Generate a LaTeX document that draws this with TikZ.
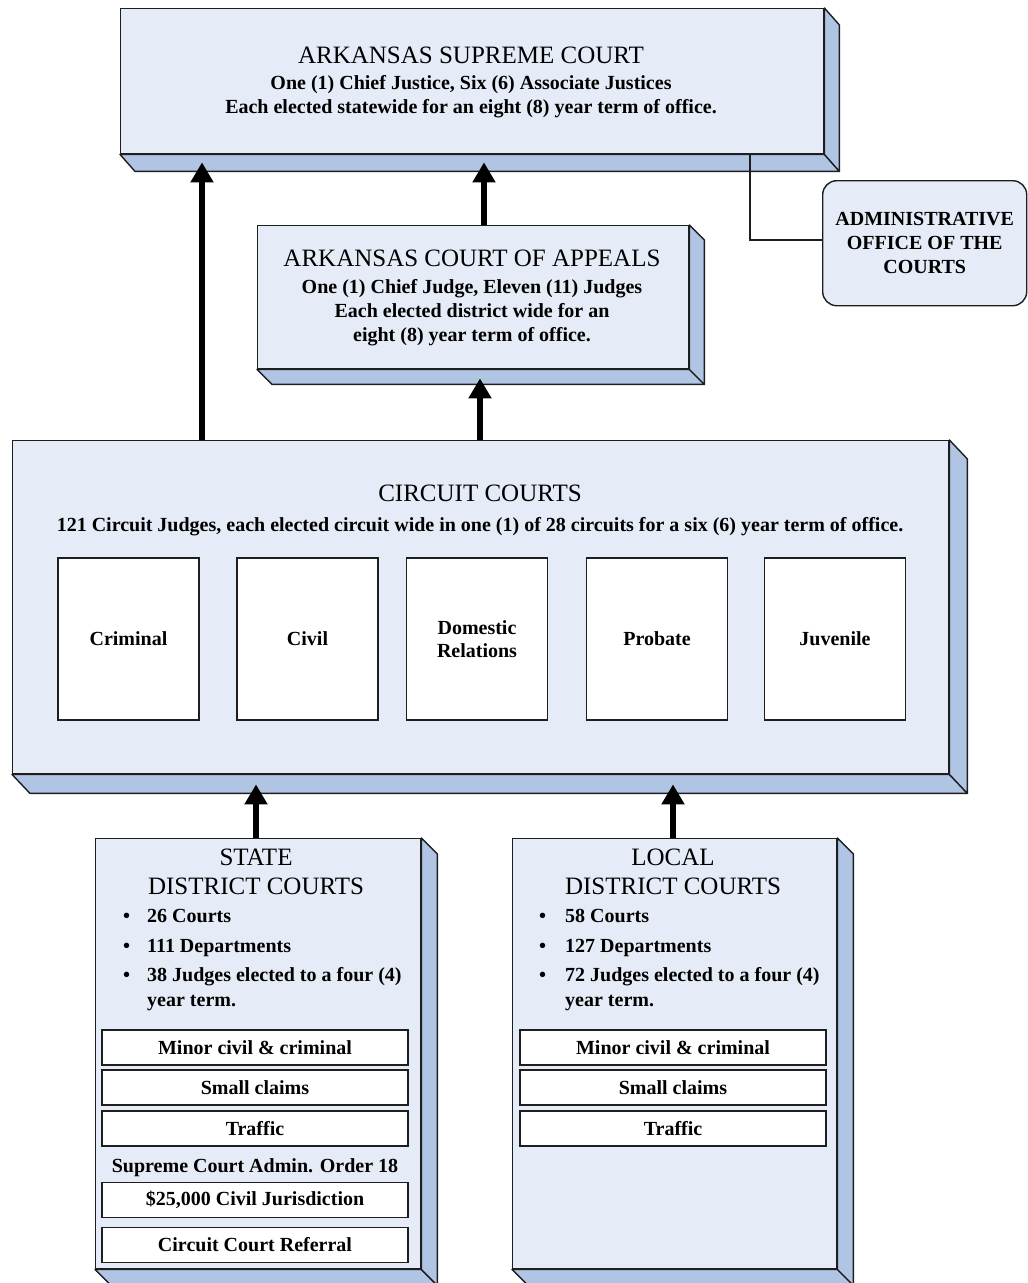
\documentclass[tikz,border=0pt]{standalone}
\usepackage{fontspec}
\setmainfont{Liberation Serif}
\usetikzlibrary{calc,arrows.meta}
\definecolor{frontcol}{RGB}{230,236,247}
\definecolor{sidecol}{RGB}{176,196,228}
\definecolor{edgecol}{RGB}{30,30,30}
\tikzset{
 front/.style={draw=edgecol, line width=1.4pt, fill=frontcol, inner sep=0pt, anchor=north west},
 side/.style={draw=edgecol, line width=1.4pt, fill=sidecol, line join=round},
 titletxt/.style={font=\fontsize{25}{28}\selectfont, inner sep=0pt, anchor=base},
 boldtxt/.style={font=\bfseries\fontsize{20}{22}\selectfont, inner sep=0pt, anchor=base},
 bullettxt/.style={font=\bfseries\fontsize{20}{22}\selectfont, inner sep=0pt, anchor=base west},
 cell/.style={draw=edgecol, line width=1.3pt, fill=white, minimum width=141pt, minimum height=162pt, inner sep=0pt, align=center, font=\bfseries\fontsize{20}{23}\selectfont},
 strip/.style={draw=edgecol, line width=1.3pt, fill=white, minimum width=306pt, minimum height=35pt, inner sep=0pt, font=\bfseries\fontsize{20}{22}\selectfont},
 uparrow/.style={line width=5.5pt, -{Triangle[width=22pt,length=20pt]}},
 link/.style={line width=1.2pt, draw=edgecol},
}
\newcommand\boxdepthfaces[3]{%
 \filldraw[side] (#1.south west) -- (#1.south east) -- ++(#2pt,-#3pt) -- ($(#1.south west)+(#2pt,-#3pt)$) -- cycle;
 \filldraw[side] (#1.north east) -- ++(#2pt,-#3pt) -- ($(#1.south east)+(#2pt,-#3pt)$) -- (#1.south east) -- cycle;
}
\begin{document}
\begin{tikzpicture}[x=1pt,y=-1pt]
\useasboundingbox (0,0) rectangle (1028,1283);
\fill[white] (0,0) rectangle (1028,1283);

% Supreme Court
\node[front, minimum width=703pt, minimum height=145pt] (sup) at (120,8) {};
\boxdepthfaces{sup}{15}{17}
\node[titletxt] (supT) at (471,63) {ARKANSAS SUPREME COURT};
\node[boldtxt] (supA) at (471,89.5) {One (1) Chief Justice, Six (6) Associate Justices};
\node[boldtxt] (supB) at (471,113.5) {Each elected statewide for an eight (8) year term of office.};

% Administrative office
\node[draw=edgecol, line width=1.4pt, fill=frontcol, rounded corners=14pt, minimum width=204pt, minimum height=125pt, anchor=north west, align=center, font=\bfseries\fontsize{20}{24}\selectfont, inner sep=0pt] (aoc) at (822,180) {ADMINISTRATIVE\\OFFICE OF THE\\COURTS};
\coordinate (bend) at (750,240);
\draw[link] (sup.south -| bend) -- (bend) -- (bend -| aoc.west);

% Court of Appeals
\node[front, minimum width=431pt, minimum height=143pt] (coa) at (257,225) {};
\boxdepthfaces{coa}{15}{15}
\node[titletxt] (coaT) at (472,266) {ARKANSAS COURT OF APPEALS};
\node[boldtxt] (coaA) at (472,293.5) {One (1) Chief Judge, Eleven (11) Judges};
\node[boldtxt] (coaB) at (472,317.5) {Each elected district wide for an};
\node[boldtxt] (coaC) at (472,341.5) {eight (8) year term of office.};

% Circuit Courts
\node[front, minimum width=936pt, minimum height=333pt] (cc) at (12,440) {};
\boxdepthfaces{cc}{18}{19}
\node[titletxt] (ccT) at (480,501) {CIRCUIT COURTS};
\node[boldtxt] (ccA) at (480,531.5) {121 Circuit Judges, each elected circuit wide in one (1) of 28 circuits for a six (6) year term of office.};
\node[cell] (crim) at (128.5,639) {Criminal};
\node[cell] (civ) at (307.5,639) {Civil};
\node[cell] (dom) at (477,639) {Domestic\\Relations};
\node[cell] (prob) at (657,639) {Probate};
\node[cell] (juv) at (835,639) {Juvenile};

% State District Courts
\node[front, minimum width=325pt, minimum height=430pt] (sdc) at (95,838) {};
\boxdepthfaces{sdc}{16}{16}
\node[titletxt] (sdcT) at (256,865) {STATE};
\node[titletxt] (sdcU) at (256,894) {DISTRICT COURTS};
\node[bullettxt] (sb1) at (123,922.5) {\textbullet};
\node[bullettxt] (sb2) at (123,952.5) {\textbullet};
\node[bullettxt] (sb3) at (123,981.5) {\textbullet};
\node[bullettxt] (st1) at (147,922.5) {26 Courts};
\node[bullettxt] (st2) at (147,952.5) {111 Departments};
\node[bullettxt] (st3) at (147,981.5) {38 Judges elected to a four (4)};
\node[bullettxt] (st4) at (147,1006.5) {year term.};
\node[strip] (ss1) at (255,1047.5) {Minor civil \& criminal};
\node[strip] (ss2) at (255,1087.5) {Small claims};
\node[strip] (ss3) at (255,1128.5) {Traffic};
\node[boldtxt] (sord) at (255,1172.5) {Supreme Court Admin. Order 18};
\node[strip] (ss4) at (255,1200) {\$25,000 Civil Jurisdiction};
\node[strip] (ss5) at (255,1245) {Circuit Court Referral};

% Local District Courts
\node[front, minimum width=324pt, minimum height=430pt] (ldc) at (512,838) {};
\boxdepthfaces{ldc}{16}{16}
\node[titletxt] (ldcT) at (673,865) {LOCAL};
\node[titletxt] (ldcU) at (673,894) {DISTRICT COURTS};
\node[bullettxt] (lb1) at (539,922.5) {\textbullet};
\node[bullettxt] (lb2) at (539,952.5) {\textbullet};
\node[bullettxt] (lb3) at (539,981.5) {\textbullet};
\node[bullettxt] (lt1) at (565,922.5) {58 Courts};
\node[bullettxt] (lt2) at (565,952.5) {127 Departments};
\node[bullettxt] (lt3) at (565,981.5) {72 Judges elected to a four (4)};
\node[bullettxt] (lt4) at (565,1006.5) {year term.};
\node[strip] (ls1) at (673,1047.5) {Minor civil \& criminal};
\node[strip] (ls2) at (673,1087.5) {Small claims};
\node[strip] (ls3) at (673,1128.5) {Traffic};

% Arrows
\coordinate (x1) at (202,0);
\coordinate (x2) at (484,0);
\coordinate (x3) at (480,0);
\coordinate (x4) at (256,0);
\coordinate (x5) at (673,0);
\draw[uparrow] (x1 |- cc.north) -- ([yshift=-8pt]x1 |- sup.south);
\draw[uparrow] (x2 |- coa.north) -- ([yshift=-8pt]x2 |- sup.south);
\draw[uparrow] (x3 |- cc.north) -- ([yshift=-9pt]x3 |- coa.south);
\draw[uparrow] (x4 |- sdc.north) -- ([yshift=-10pt]x4 |- cc.south);
\draw[uparrow] (x5 |- ldc.north) -- ([yshift=-10pt]x5 |- cc.south);
\end{tikzpicture}
\end{document}
